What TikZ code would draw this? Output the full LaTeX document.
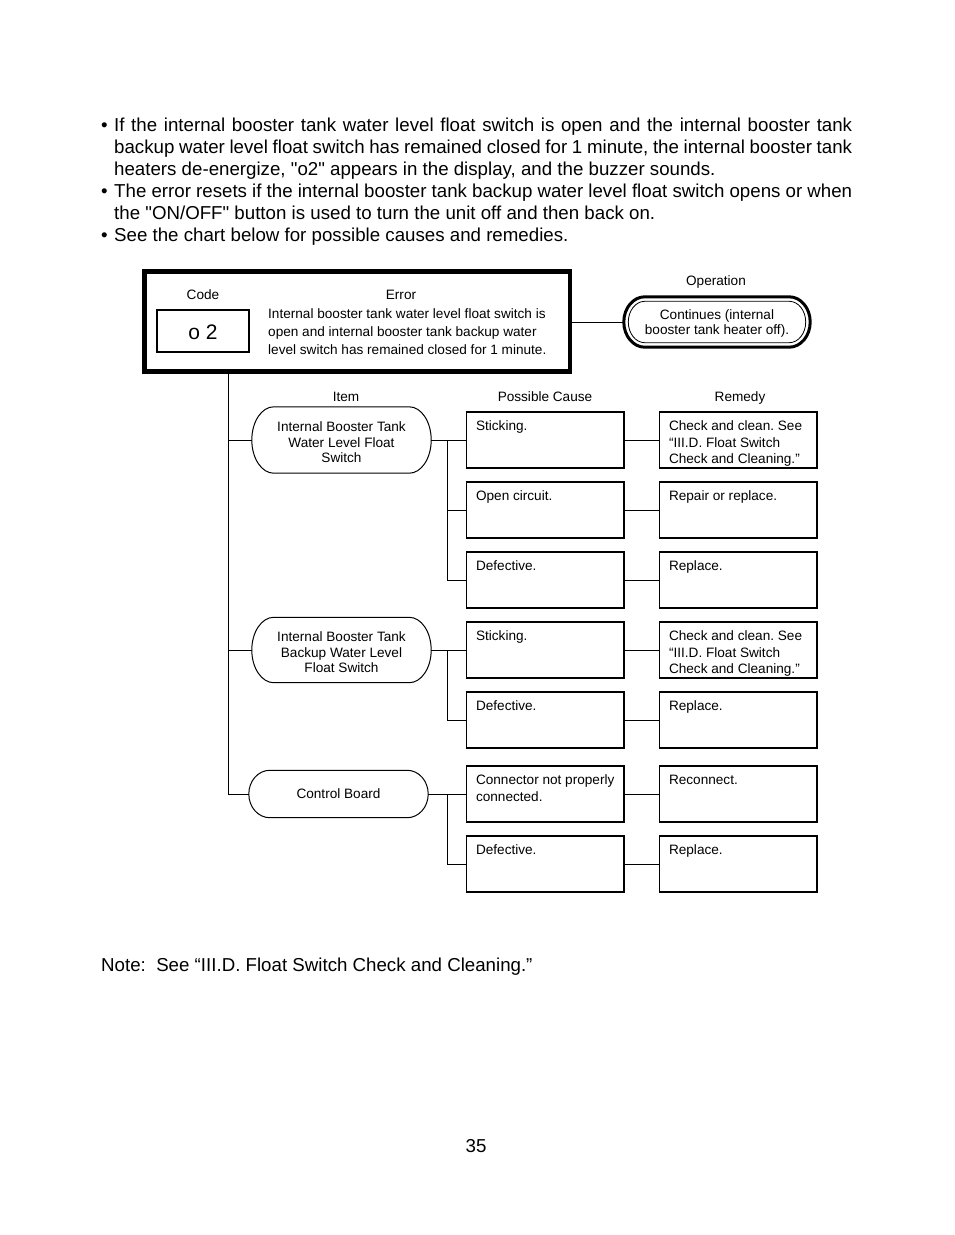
\documentclass[tikz,border=0pt]{standalone}
\usepackage{fontspec}
\setmainfont{Liberation Sans}[Ligatures=TeXOff]
\usetikzlibrary{calc}
\frenchspacing
\newcommand\sm{\fontsize{13.6}{16.5}\selectfont}
\newcommand\smi{\fontsize{13.6}{15.8}\selectfont}
% stadium outline round a named node: name, end x-radius, inset, style
\newcommand\stad[4]{%
 \draw[#4] let \p1=(#1.north west), \p2=(#1.south east), \n1={(\y1-\y2)/2-#3} in
 (\x1+#2pt,\y1-#3pt) -- (\x2-#2pt,\y1-#3pt)
 arc[start angle=90,end angle=-90,x radius=#2pt-#3pt,y radius={\n1*1pt}]
 -- (\x1+#2pt,\y2+#3pt)
 arc[start angle=270,end angle=90,x radius=#2pt-#3pt,y radius={\n1*1pt}] -- cycle;}
\newcommand\tl[1]{\begin{minipage}[t]{150pt}\raggedright #1\end{minipage}}
\newcommand\lowered[2]{\raisebox{-#1}[\height][\depth]{#2}}
\begin{document}
\begin{tikzpicture}[x=1pt,y=-1pt,
  cbox/.style={draw, line width=1.3pt, minimum width=157.5pt, minimum height=56pt, inner sep=0},
  stadnode/.style={rectangle, inner sep=0, align=center, font=\smi},
  conn/.style={line width=1pt},
  hdr/.style={font=\sm, anchor=base, inner sep=0},
  btxt/.style={anchor=base west, inner sep=0, font=\sm}]
\useasboundingbox (0,0) rectangle (954,1235);

% body text
\node[anchor=base west, inner sep=0] (body) at (101,131) {\begin{minipage}[t]{751pt}\fontsize{18.7}{22}\selectfont
\noindent\hangindent=13pt\hangafter=1\makebox[13pt][l]{•}If the internal booster tank water level float switch is open and the internal booster tank\linebreak backup water level float switch has remained closed for 1 minute, the internal booster tank\linebreak heaters de-energize, "o2" appears in the display, and the buzzer sounds.\par
\noindent\hangindent=13pt\hangafter=1\makebox[13pt][l]{•}The error resets if the internal booster tank backup water level float switch opens or when\linebreak the "ON/OFF" button is used to turn the unit off and then back on.\par
\noindent\hangindent=13pt\hangafter=1\makebox[13pt][l]{•}See the chart below for possible causes and remedies.\par
\end{minipage}};

% error box
\node[draw, line width=3.5pt, minimum width=426.5pt, minimum height=101pt, inner sep=0] (err) at (357.25,321.5) {};
\draw[line width=0.9pt] ([shift={(4pt,-4pt)}]err.north west) rectangle ([shift={(-4pt,4pt)}]err.south east);
\node[hdr] (codeh) at (203,299) {Code};
\node[hdr] (errh) at (401,299) {Error};
\node[draw, line width=2pt, minimum width=92pt, minimum height=42pt, inner sep=0] (code) at (203,331) {};
\node[anchor=base, inner sep=0, font=\fontsize{21}{24}\selectfont] (codet) at (203,339) {o 2};
\node[anchor=base west, inner sep=0] (errt) at (268,318) {\begin{minipage}[t]{300pt}\fontsize{13.6}{18}\selectfont\raggedright
Internal booster tank water level float switch is\\
open and internal booster tank backup water\\
level switch has remained closed for 1 minute.\end{minipage}};

% operation
\node[hdr] (oph) at (716,285) {Operation};
\node[stadnode, minimum width=186pt, minimum height=50pt] (op) at (717,322) {\lowered{1.5pt}{\begin{tabular}{@{}c@{}}Continues (internal\\[-0.5pt]booster tank heater off).\end{tabular}}};
\stad{op}{21}{0}{line width=3pt}
\stad{op}{21}{4.5}{line width=0.8pt}
\draw[conn] (err.east |- op.west) -- (op.west);

% headers
\node[hdr] (itemh) at (346,401) {Item};
\node[hdr] (causeh) at (545,401) {Possible Cause};
\node[hdr] (remh) at (740,401) {Remedy};

% items
\node[stadnode, minimum width=179pt, minimum height=66pt] (it1) at (341.5,440) {\lowered{4pt}{\begin{tabular}{@{}c@{}}Internal Booster Tank\\Water Level Float\\Switch\end{tabular}}};
\node[stadnode, minimum width=179pt, minimum height=65pt] (it2) at (341.5,650) {\lowered{4pt}{\begin{tabular}{@{}c@{}}Internal Booster Tank\\Backup Water Level\\Float Switch\end{tabular}}};
\node[stadnode, minimum width=179pt, minimum height=47pt] (it3) at (338.5,794) {Control Board};
\stad{it1}{22}{0}{line width=1pt}
\stad{it2}{22}{0}{line width=1pt}
\stad{it3}{21}{0}{line width=1pt}

% cause and remedy boxes
\foreach \i/\y in {1/440,2/510,3/580,4/650,5/720,6/794,7/864}{
  \node[cbox] (c\i) at (545.25,\y) {};
  \node[cbox] (r\i) at (738.25,\y) {};
  \draw[conn] (c\i.east) -- (r\i.west);
}
\node[btxt] at ([xshift=10pt,yshift=-19.2pt]c1.north west) {\tl{Sticking.}};
\node[btxt] at ([xshift=10pt,yshift=-19.2pt]c2.north west) {\tl{Open circuit.}};
\node[btxt] at ([xshift=10pt,yshift=-19.2pt]c3.north west) {\tl{Defective.}};
\node[btxt] at ([xshift=10pt,yshift=-19.2pt]c4.north west) {\tl{Sticking.}};
\node[btxt] at ([xshift=10pt,yshift=-19.2pt]c5.north west) {\tl{Defective.}};
\node[btxt] at ([xshift=10pt,yshift=-19.2pt]c6.north west) {\tl{Connector not properly\\connected.}};
\node[btxt] at ([xshift=10pt,yshift=-19.2pt]c7.north west) {\tl{Defective.}};
\node[btxt] at ([xshift=10pt,yshift=-19.2pt]r1.north west) {\tl{Check and clean. See\\“III.D. Float Switch\\Check and Cleaning.”}};
\node[btxt] at ([xshift=10pt,yshift=-19.2pt]r2.north west) {\tl{Repair or replace.}};
\node[btxt] at ([xshift=10pt,yshift=-19.2pt]r3.north west) {\tl{Replace.}};
\node[btxt] at ([xshift=10pt,yshift=-19.2pt]r4.north west) {\tl{Check and clean. See\\“III.D. Float Switch\\Check and Cleaning.”}};
\node[btxt] at ([xshift=10pt,yshift=-19.2pt]r5.north west) {\tl{Replace.}};
\node[btxt] at ([xshift=10pt,yshift=-19.2pt]r6.north west) {\tl{Reconnect.}};
\node[btxt] at ([xshift=10pt,yshift=-19.2pt]r7.north west) {\tl{Replace.}};

% trunk and buses
\coordinate (tr) at (228,0);
\coordinate (bus) at (447,0);
\draw[conn] (err.south -| tr) |- (it3.west);
\draw[conn] (it1.west -| tr) -- (it1.west);
\draw[conn] (it2.west -| tr) -- (it2.west);
\draw[conn] (it1.east) -- (c1.west);
\draw[conn] (c1.west -| bus) |- (c3.west);
\draw[conn] (c2.west -| bus) -- (c2.west);
\draw[conn] (it2.east) -- (c4.west);
\draw[conn] (c4.west -| bus) |- (c5.west);
\draw[conn] (it3.east) -- (c6.west);
\draw[conn] (c6.west -| bus) |- (c7.west);

% note and page number
\node[anchor=base west, inner sep=0, font=\fontsize{18.7}{22}\selectfont] (note) at (101,971) {Note:\ \ See “III.D. Float Switch Check and Cleaning.”};
\node[anchor=base, inner sep=0, font=\fontsize{18.7}{22}\selectfont] (page) at (476,1152) {35};
\end{tikzpicture}
\end{document}
